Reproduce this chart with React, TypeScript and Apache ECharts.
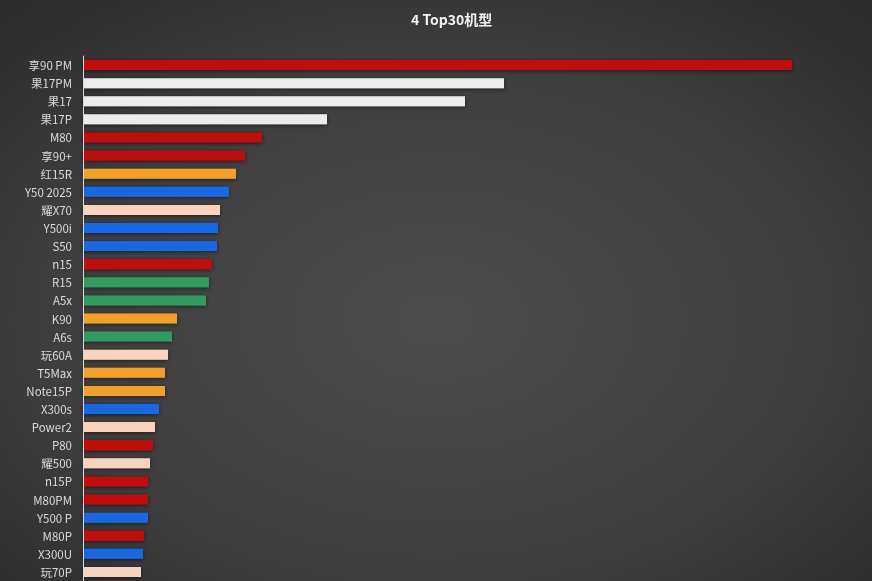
import React, { useEffect, useRef } from "react";
import * as echarts from "echarts";

const categories = [
  "享90 PM", "果17PM", "果17", "果17P", "M80", "享90+", "红15R", "Y50 2025", "耀X70", "Y500i",
  "S50", "n15", "R15", "A5x", "K90", "A6s", "玩60A", "T5Max", "Note15P", "X300s",
  "Power2", "P80", "耀500", "n15P", "M80PM", "Y500 P", "M80P", "X300U", "玩70P",
];

const values = [
  709, 421, 382, 244, 179, 162, 153, 146, 137, 135,
  134, 129, 126, 123, 94, 89, 85, 82, 82, 76,
  72, 70, 67, 65, 65, 65, 61, 60, 58,
];

const brands = [
  "Huawei", "Apple", "Apple", "Apple", "Huawei", "Huawei", "Xiaomi", "vivo", "Honor", "vivo",
  "vivo", "Huawei", "OPPO", "OPPO", "Xiaomi", "OPPO", "Honor", "Xiaomi", "Xiaomi", "vivo",
  "Honor", "Huawei", "Honor", "Huawei", "Huawei", "vivo", "Huawei", "vivo", "Honor",
];

const brandColors: Record<string, string> = {
  Huawei: "#c30b0b",
  Apple: "#ececec",
  Xiaomi: "#f2a126",
  vivo: "#1769e6",
  Honor: "#f9d3bd",
  OPPO: "#2f9b61",
};

const titleText = "4 Top30机型";

export default function App() {
  const ref = useRef<HTMLDivElement>(null);

  useEffect(() => {
    if (!ref.current) return;
    const chart = echarts.init(ref.current, null, { renderer: "svg" });
    chart.setOption({
      animation: false,
      backgroundColor: {
        type: "radial",
        x: 0.5,
        y: 0.55,
        r: 0.75,
        colorStops: [
          { offset: 0, color: "#4c4c4c" },
          { offset: 0.6, color: "#3e3e3e" },
          { offset: 1, color: "#2a2a2a" },
        ],
      },
      title: {
        text: titleText,
        left: 406,
        top: 7,
        textStyle: {
          color: "#f2f2f2",
          fontSize: 14,
          fontWeight: "bold",
          fontFamily: "Noto Sans CJK SC, sans-serif",
        },
      },
      grid: {
        left: 83,
        right: 9,
        top: 56,
        bottom: -2,
        containLabel: false,
      },
      xAxis: {
        type: "value",
        min: 0,
        max: 780,
        show: false,
      },
      yAxis: {
        type: "category",
        inverse: true,
        z: 5,
        data: categories,
        axisLine: { show: true, lineStyle: { color: "#d8d8d8", width: 1 } },
        axisTick: { show: false },
        splitLine: { show: false },
        axisLabel: {
          color: "#dadada",
          fontSize: 11.5,
          margin: 11,
          fontFamily: "Noto Sans CJK SC, sans-serif",
        },
      },
      series: [
        {
          type: "bar",
          barWidth: 10,
          z: 2,
          data: values.map((v, i) => ({
            value: v,
            itemStyle: {
              color: brandColors[brands[i]],
              shadowBlur: 4,
              shadowColor: "rgba(0,0,0,0.55)",
              shadowOffsetY: 1,
            },
          })),
        },
      ],
    });
    return () => chart.dispose();
  }, []);

  return (
    <div style={{ position: "fixed", top: 0, left: 0, width: 872, height: 581, overflow: "hidden" }}>
      <div ref={ref} style={{ width: 872, height: 581 }} />
    </div>
  );
}
